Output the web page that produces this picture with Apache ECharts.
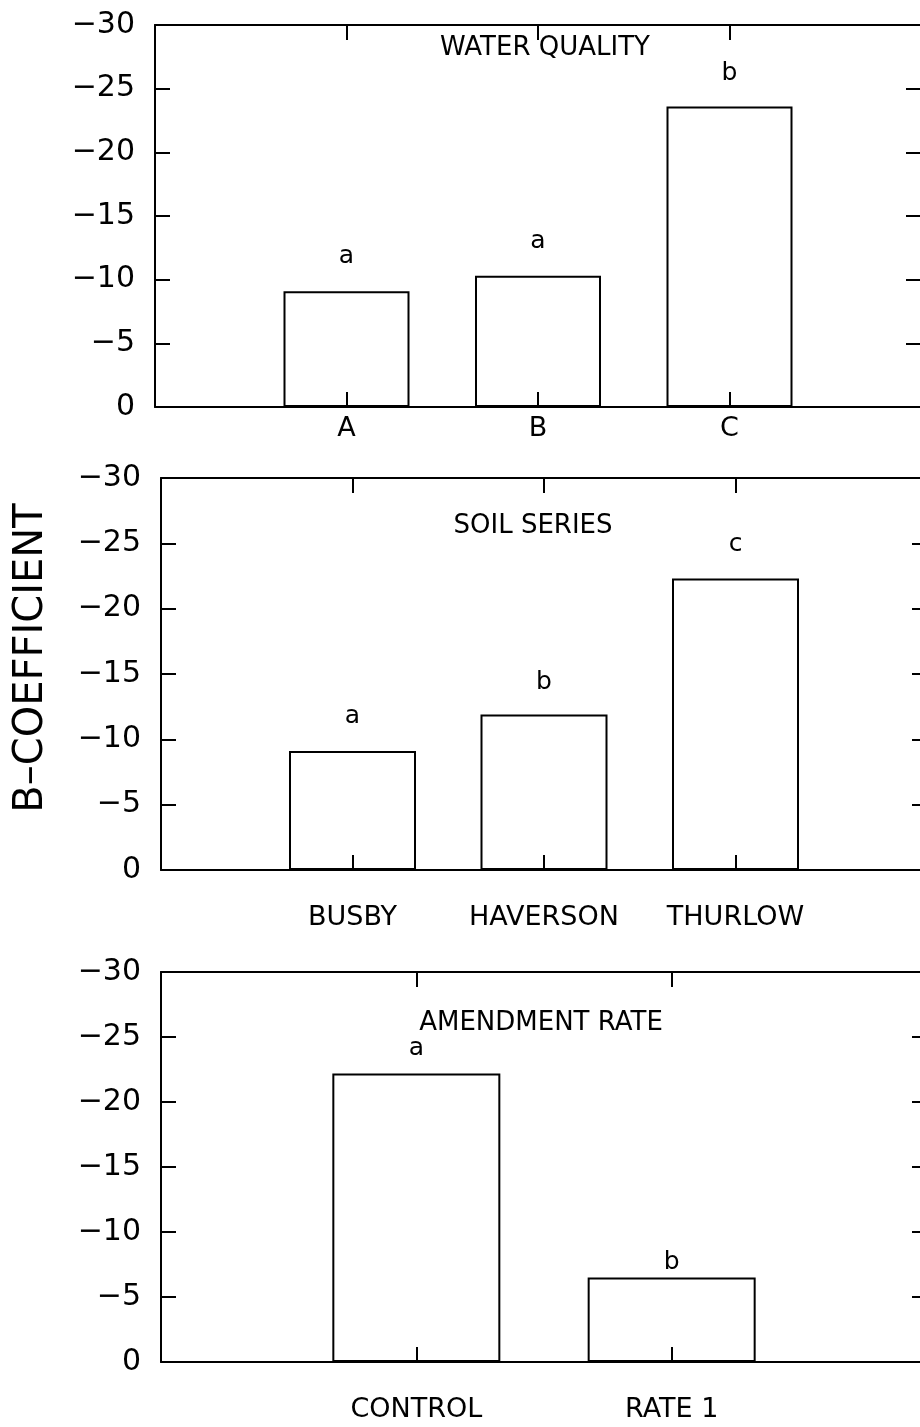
<!DOCTYPE html>
<html>
<head>
<meta charset="utf-8">
<script src="https://cdn.jsdelivr.net/npm/echarts@6/dist/echarts.min.js"></script>
<style>
  html, body { margin: 0; padding: 0; background: #fff; }
  #chart { width: 920px; height: 1427px; }
</style>
</head>
<body>
<div id="chart"></div>
<script>
// Mean B-coefficients per factor level, with mean-separation letters
const waterCategories = ['A', 'B', 'C'];
const waterValues = [-9.1, -10.3, -23.6];
const waterLetters = ['a', 'a', 'b'];

const soilCategories = ['BUSBY', 'HAVERSON', 'THURLOW'];
const soilValues = [-9.1, -11.9, -22.3];
const soilLetters = ['a', 'b', 'c'];

const rateCategories = ['CONTROL', 'RATE 1'];
const rateValues = [-22.2, -6.5];
const rateLetters = ['a', 'b'];

const yMin = -30;
const yMax = 0;
const yStep = 5;

const FONT = 'DejaVu Sans';
const INK = '#000';

// Panel layout and styling (the frames run slightly past the right edge of the page)
const panels = [
  { title: 'WATER QUALITY', cats: waterCategories, vals: waterValues, letters: waterLetters,
    top: 25, height: 382, left: 155, right: -1, barWidth: 126, labelMargin: 8,
    letterDist: [22, 22, 20], titleX: 545, titleY: 48 },
  { title: 'SOIL SERIES', cats: soilCategories, vals: soilValues, letters: soilLetters,
    top: 478, height: 392, left: 161, right: -7, barWidth: 127, labelMargin: 34,
    letterDist: [22, 20, 22], titleX: 533, titleY: 526 },
  { title: 'AMENDMENT RATE', cats: rateCategories, vals: rateValues, letters: rateLetters,
    top: 972, height: 390, left: 161, right: -7, barWidth: 168, labelMargin: 34,
    letterDist: [12, 3], titleX: 541, titleY: 1023 }
];

const fmtY = v => (v === 0 ? '0' : '\u2212' + Math.abs(v));
const line = { show: true, onZero: false, lineStyle: { color: INK, width: 2 } };
const tick = { show: true, inside: true, length: 15, lineStyle: { color: INK, width: 2 } };

const grid = [], xAxis = [], yAxis = [], series = [], graphic = [];

panels.forEach((p, i) => {
  grid.push({ left: p.left, right: p.right, top: p.top, height: p.height,
              containLabel: false, outerBoundsMode: 'none' });
  const n = p.cats.length;
  const cats = p.cats;
  // bottom category axis (levels at 1..n)
  xAxis.push({
    gridIndex: i, type: 'value', min: 0, max: n + 1, interval: 1, position: 'bottom',
    axisLine: line, axisTick: tick, splitLine: { show: false },
    axisLabel: {
      margin: p.labelMargin, color: INK, fontFamily: FONT, fontSize: 27,
      formatter: v => cats[v - 1] || ''
    }
  });
  // top frame with matching ticks
  xAxis.push({
    gridIndex: i, type: 'value', min: 0, max: n + 1, interval: 1, position: 'top',
    axisLine: line, axisTick: tick, splitLine: { show: false }, axisLabel: { show: false }
  });
  yAxis.push({
    gridIndex: i, type: 'value', min: yMin, max: yMax, interval: yStep, inverse: true,
    position: 'left', axisLine: line, axisTick: tick, splitLine: { show: false },
    axisLabel: { margin: 20, color: INK, fontFamily: FONT, fontSize: 30, formatter: fmtY }
  });
  yAxis.push({
    gridIndex: i, type: 'value', min: yMin, max: yMax, interval: yStep, inverse: true,
    position: 'right', axisLine: line, axisTick: tick, splitLine: { show: false },
    axisLabel: { show: false }
  });
  // open bars so the category ticks stay visible inside them
  series.push({
    type: 'bar', xAxisIndex: 2 * i, yAxisIndex: 2 * i,
    barWidth: p.barWidth, silent: true, animation: false,
    itemStyle: { color: 'rgba(255,255,255,0)', borderColor: INK, borderWidth: 2 },
    data: p.vals.map((v, k) => ({
      value: [k + 1, v],
      label: {
        show: true, position: 'top', distance: p.letterDist[k],
        formatter: p.letters[k], color: INK, fontFamily: FONT, fontSize: 25
      }
    }))
  });
  graphic.push({
    type: 'text', x: p.titleX, y: p.titleY,
    style: { text: p.title, align: 'center', verticalAlign: 'middle',
             fontFamily: FONT, fontSize: 26, fill: INK }
  });
});

graphic.push({
  type: 'text', x: 32, y: 658, rotation: Math.PI / 2,
  style: { text: 'B\u2013COEFFICIENT', align: 'center', verticalAlign: 'middle',
           fontFamily: FONT, fontSize: 40, fill: INK }
});

const chart = echarts.init(document.getElementById('chart'), null, { renderer: 'canvas' });
chart.setOption({
  backgroundColor: '#fff',
  animation: false,
  grid, xAxis, yAxis, series, graphic
});
</script>
</body>
</html>
